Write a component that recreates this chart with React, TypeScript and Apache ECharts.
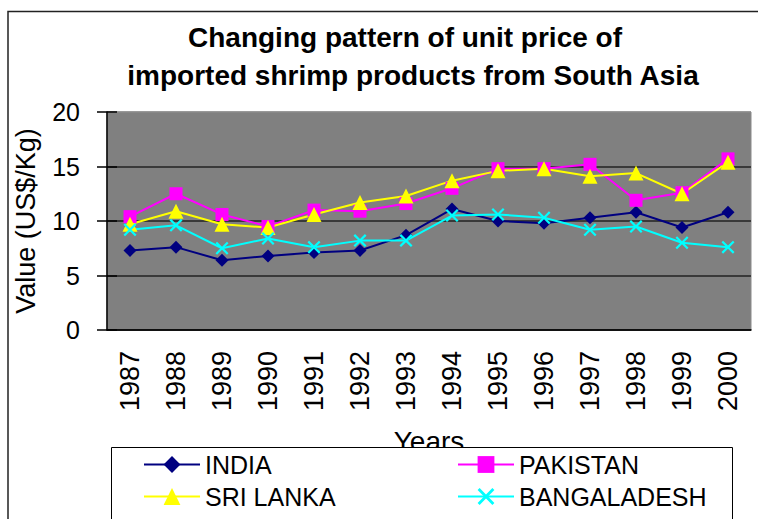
import React, { useEffect, useRef } from "react";
import * as echarts from "echarts";

const years = ["1987", "1988", "1989", "1990", "1991", "1992", "1993", "1994", "1995", "1996", "1997", "1998", "1999", "2000"];
const india = [7.3, 7.6, 6.4, 6.8, 7.1, 7.3, 8.7, 11.1, 10.0, 9.8, 10.3, 10.8, 9.4, 10.8];
const pakistan = [10.4, 12.5, 10.6, 9.5, 11.0, 10.9, 11.6, 13.0, 14.8, 14.8, 15.2, 11.9, 12.6, 15.7];
const sriLanka = [9.7, 10.9, 9.7, 9.4, 10.6, 11.7, 12.3, 13.7, 14.6, 14.8, 14.1, 14.4, 12.5, 15.4];
const bangladesh = [9.2, 9.6, 7.5, 8.4, 7.6, 8.2, 8.2, 10.5, 10.6, 10.3, 9.2, 9.5, 8.0, 7.6];
const titleLines = ["Changing pattern of unit price of", "imported shrimp products from South Asia"];

const FONT = "'Liberation Sans', Arial, sans-serif";
const CROSS = "path://M0,1.2L1.2,0L5,3.8L8.8,0L10,1.2L6.2,5L10,8.8L8.8,10L5,6.2L1.2,10L0,8.8L3.8,5Z";

export default function App() {
  const ref = useRef<HTMLDivElement>(null);
  useEffect(() => {
    document.body.style.margin = "0";
    const chart = echarts.init(ref.current!, null, { renderer: "svg" });
    const mkSeries = (name: string, data: number[], color: string, symbol: string, size: number) => ({
      name,
      type: "line",
      data,
      xAxisIndex: 0,
      yAxisIndex: 0,
      symbol,
      symbolSize: size,
      showAllSymbol: true,
      lineStyle: { color, width: 2 },
      itemStyle: { color, borderWidth: 0 },
    });
    const mkLegend = (name: string, left: number, top: number) => ({
      z: 200, orient: "horizontal", left, top, padding: 0,
      itemWidth: 56, itemHeight: 21,
      data: [name],
      textStyle: { fontSize: 25, color: "#000", fontFamily: FONT },
    });
    chart.setOption({
      animation: false,
      backgroundColor: "#ffffff",
      textStyle: { fontFamily: FONT },
      graphic: [
        { type: "rect", z: -10, shape: { x: 8, y: 11.5, width: 900, height: 700 }, style: { fill: "none", stroke: "#222", lineWidth: 1.5 } },
        { type: "text", z: 10, x: 405, y: 37, style: { text: titleLines[0], font: `bold 28px ${FONT}`, fill: "#000", textAlign: "center", textVerticalAlign: "middle" } },
        { type: "text", z: 10, x: 413, y: 75, style: { text: titleLines[1], font: `bold 28px ${FONT}`, fill: "#000", textAlign: "center", textVerticalAlign: "middle" } },
        { type: "rect", z: 100, shape: { x: 111.5, y: 447.5, width: 621, height: 200 }, style: { fill: "#ffffff", stroke: "#000", lineWidth: 1 } },
      ],
      grid: {
        left: 107, top: 112, right: 7, bottom: 189,
        show: true, backgroundColor: "#808080", borderColor: "#8a8a8a", borderWidth: 1,
      },
      legend: [
        mkLegend("INDIA", 143, 452),
        mkLegend("SRI LANKA", 143, 484),
        mkLegend("PAKISTAN", 457, 452),
        mkLegend("BANGALADESH", 457, 484),
      ],
      xAxis: [
        {
          type: "category", data: years, position: "bottom",
          name: "Years", nameLocation: "middle", nameGap: 97,
          nameTextStyle: { fontSize: 28, color: "#000", fontFamily: FONT },
          axisLine: { lineStyle: { color: "#000", width: 1.5 } },
          axisTick: { inside: true, length: 10, lineStyle: { color: "#000", width: 1.5 } },
          axisLabel: { rotate: 90, margin: 21, fontSize: 27, color: "#000", fontFamily: FONT, interval: 0 },
          splitLine: { show: false },
        },
        {
          type: "category", data: years, position: "bottom",
          axisLine: { show: false },
          axisTick: { inside: false, length: 10, lineStyle: { color: "#000", width: 1.5 } },
          axisLabel: { show: false },
          splitLine: { show: false },
        },
      ],
      yAxis: [
        {
          type: "value", min: 0, max: 20, interval: 5, position: "left",
          name: "Value (US$/Kg)", nameLocation: "middle", nameGap: 68,
          nameTextStyle: { fontSize: 27, color: "#000", fontFamily: FONT },
          axisLine: { show: true, lineStyle: { color: "#000", width: 1.5 } },
          axisTick: { show: true, inside: true, length: 10, lineStyle: { color: "#000", width: 1.5 } },
          axisLabel: { margin: 27, fontSize: 25, color: "#000", fontFamily: FONT },
          splitLine: { show: true, lineStyle: { color: ["#222", "#222", "#222", "#222", "#8a8a8a"], width: 1.5 } },
        },
        {
          type: "value", min: 0, max: 20, interval: 5, position: "left",
          axisLine: { show: false },
          axisTick: { show: true, inside: false, length: 10, lineStyle: { color: "#000", width: 1.5 } },
          axisLabel: { show: false },
          splitLine: { show: false },
        },
      ],
      series: [
        mkSeries("INDIA", india, "#000080", "diamond", 13),
        mkSeries("PAKISTAN", pakistan, "#ff00ff", "rect", 13),
        mkSeries("SRI LANKA", sriLanka, "#ffff00", "triangle", 15),
        mkSeries("BANGALADESH", bangladesh, "#00ffff", CROSS, 13),
      ],
    });
    return () => chart.dispose();
  }, []);
  return <div ref={ref} style={{ width: 758, height: 519 }} />;
}
